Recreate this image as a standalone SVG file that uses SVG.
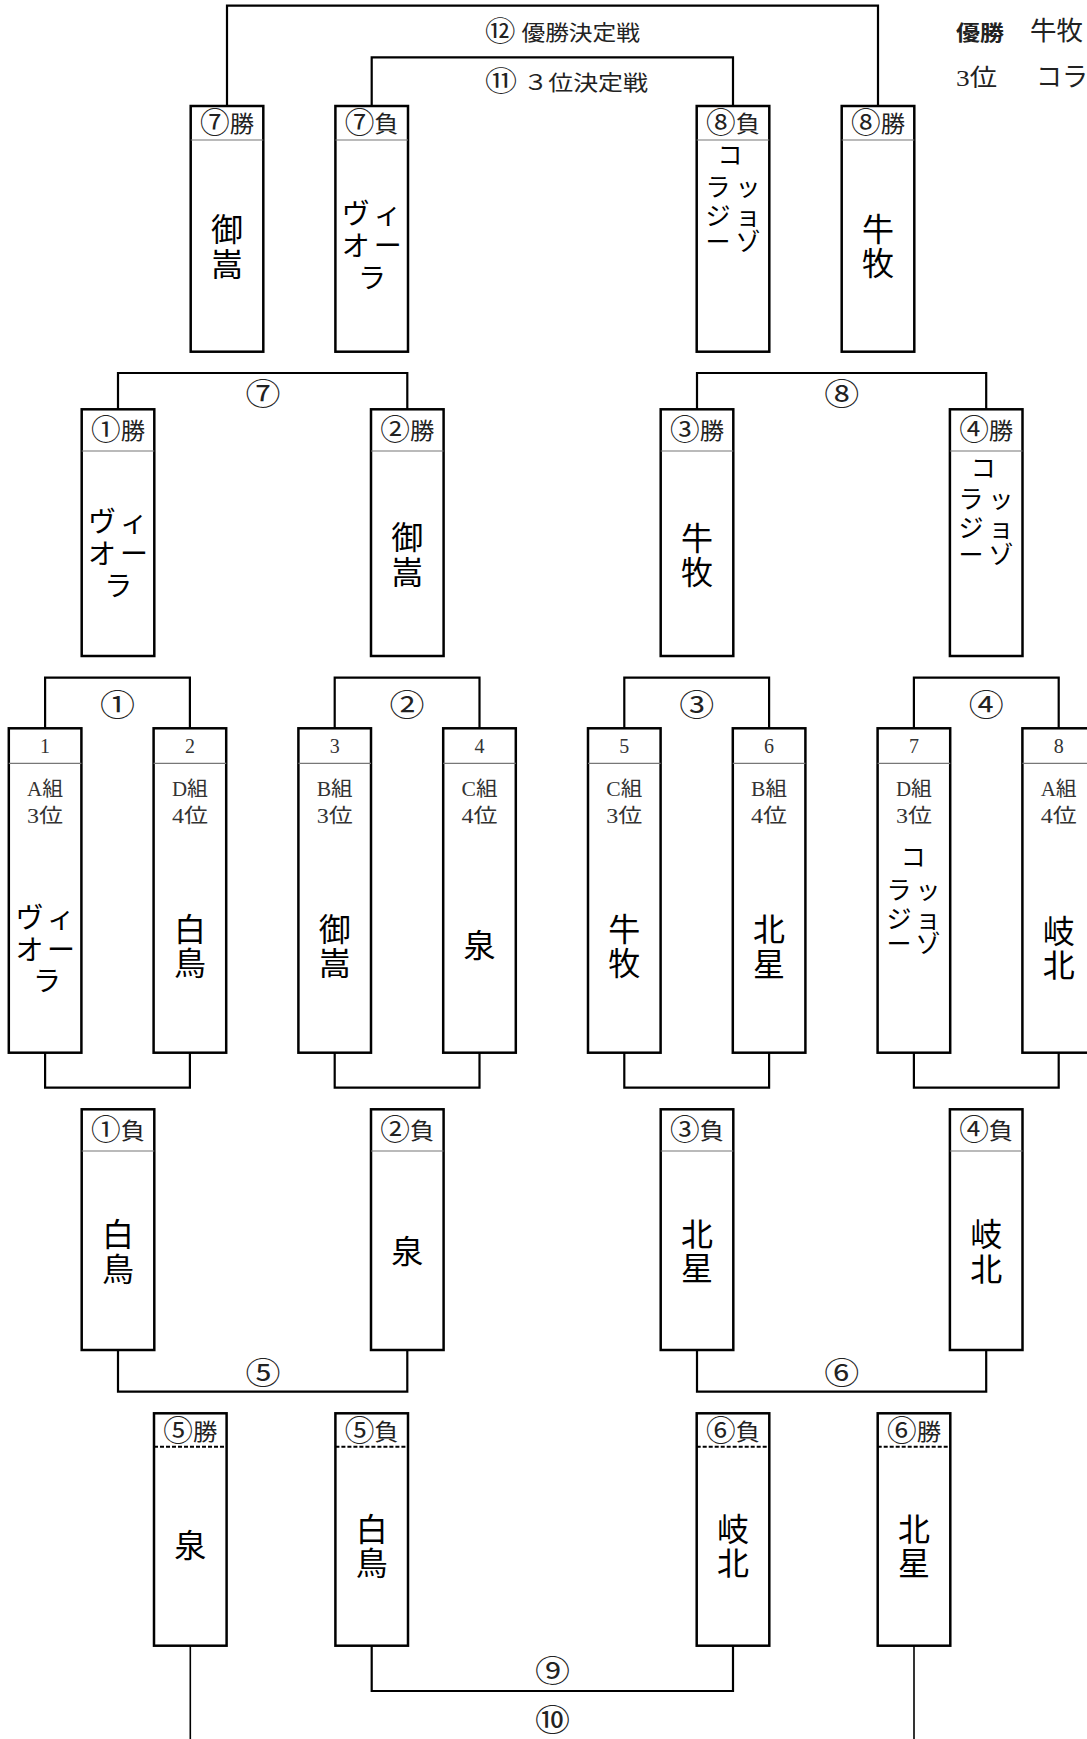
<svg xmlns="http://www.w3.org/2000/svg" width="1087" height="1739" viewBox="0 0 1087 1739">
<style>
.bg{fill:#fff}
.box{fill:#fff;stroke:#000;stroke-width:2.5}
.hl{stroke:#777;stroke-width:1.2}
.hld{stroke:#000;stroke-width:2;stroke-dasharray:4 2}
.ln{fill:none;stroke:#000;stroke-width:2.2}
.ln2{fill:none;stroke:#000;stroke-width:1.6}
text{font-family:"Liberation Serif","Noto Sans CJK JP",serif;text-anchor:middle;fill:#000}
.nm{font-family:"Noto Sans CJK JP",sans-serif;font-size:32px}
.nv{font-family:"Noto Sans CJK JP",sans-serif;font-size:32px;writing-mode:vertical-rl;letter-spacing:2.5px}
.kv{font-family:"Noto Sans CJK JP",sans-serif;font-size:28px}
.kc{font-family:"Noto Sans CJK JP",sans-serif;font-size:25px}
.ht{font-size:23px;fill:#222}
.cd{font-size:28px}
.ci{font-size:31px;fill:#222}
.gl{font-size:20px;fill:#333}
.no{font-size:20px;fill:#333}
.tt{text-anchor:start;fill:#222}
</style>
<rect class="bg" x="0" y="0" width="1087" height="1739"/>

<g id="connectors">
<path class="ln" d="M227,106V5.7H878V106"/>
<path class="ln" d="M371.7,106V57.3H733V106"/>
<path class="ln" d="M118,409.3V373H407.3V409.3"/>
<path class="ln" d="M697,409.3V373H986.2V409.3"/>
<path class="ln" d="M45.1,728.3V677.7H189.9V728.3"/>
<path class="ln" d="M334.7,728.3V677.7H479.5V728.3"/>
<path class="ln" d="M624.3,728.3V677.7H769.1V728.3"/>
<path class="ln" d="M913.9,728.3V677.7H1058.7V728.3"/>
<path class="ln" d="M45.1,1052.7V1087.7H189.9V1052.7"/>
<path class="ln" d="M334.7,1052.7V1087.7H479.5V1052.7"/>
<path class="ln" d="M624.3,1052.7V1087.7H769.1V1052.7"/>
<path class="ln" d="M913.9,1052.7V1087.7H1058.7V1052.7"/>
<path class="ln" d="M118,1350V1391.7H407.3V1350"/>
<path class="ln" d="M697,1350V1391.7H986.2V1350"/>
<path class="ln" d="M371.7,1645.7V1691H733V1645.7"/>
<path class="ln2" d="M190.3,1645.7V1739"/>
<path class="ln2" d="M914,1645.7V1739"/>
<text class="ci" x="263" y="404.7" textLength="35" lengthAdjust="spacingAndGlyphs">⑦</text>
<text class="ci" x="841.7" y="404.7" textLength="35" lengthAdjust="spacingAndGlyphs">⑧</text>
<text class="ci" x="117.5" y="716" textLength="35" lengthAdjust="spacingAndGlyphs">①</text>
<text class="ci" x="407.1" y="716" textLength="35" lengthAdjust="spacingAndGlyphs">②</text>
<text class="ci" x="696.7" y="716" textLength="35" lengthAdjust="spacingAndGlyphs">③</text>
<text class="ci" x="986.3" y="716" textLength="35" lengthAdjust="spacingAndGlyphs">④</text>
<text class="ci" x="263" y="1384" textLength="35" lengthAdjust="spacingAndGlyphs">⑤</text>
<text class="ci" x="841.7" y="1384" textLength="35" lengthAdjust="spacingAndGlyphs">⑥</text>
<text class="ci" x="552.5" y="1682.3" textLength="35" lengthAdjust="spacingAndGlyphs">⑨</text>
<text class="ci" x="552.5" y="1731.3" textLength="35" lengthAdjust="spacingAndGlyphs">⑩</text>
<text class="tt" x="485" y="39.5" font-size="21" textLength="155" lengthAdjust="spacingAndGlyphs"><tspan font-size="27" dy="1">⑫</tspan><tspan dy="-1"> 優勝決定戦</tspan></text>
<text class="tt" x="485" y="89.7" font-size="21" textLength="163" lengthAdjust="spacingAndGlyphs"><tspan font-size="27" dy="1">⑪</tspan><tspan dy="-1"> ３位決定戦</tspan></text>
</g>

<g id="result">
<text class="tt" x="956" y="39.5" font-size="21" font-weight="bold" textLength="48" lengthAdjust="spacingAndGlyphs">優勝</text>
<text class="tt" x="1030" y="40" font-size="26" textLength="53" lengthAdjust="spacingAndGlyphs">牛牧</text>
<text class="tt" x="956" y="85.7" font-size="24" textLength="41" lengthAdjust="spacingAndGlyphs">3位</text>
<text class="tt" x="1036" y="86" font-size="26">コラ</text>
</g>

<!-- top row -->
<g id="n-7w">
<rect class="box" x="190.7" y="106" width="72.6" height="245.7"/>
<line class="hl" x1="190.7" y1="140" x2="263.3" y2="140"/>
<text class="ht" x="227" y="131.7" textLength="54" lengthAdjust="spacingAndGlyphs"><tspan class="cd" dy="1">⑦</tspan><tspan dy="-1">勝</tspan></text>
<text class="nv" x="227" y="247.5">御嵩</text>
</g>
<g id="n-7l">
<rect class="box" x="335.4" y="106" width="72.6" height="245.7"/>
<line class="hl" x1="335.4" y1="140" x2="408" y2="140"/>
<text class="ht" x="371.7" y="131.7" textLength="54" lengthAdjust="spacingAndGlyphs"><tspan class="cd" dy="1">⑦</tspan><tspan dy="-1">負</tspan></text>
<text class="kv"><tspan x="355.7 387.7" y="223.6">ヴィ</tspan><tspan x="355.7 387.7" y="255.6">オー</tspan><tspan x="372" y="287.6">ラ</tspan></text>
</g>
<g id="n-8l">
<rect class="box" x="696.7" y="106" width="72.6" height="245.7"/>
<line class="hl" x1="696.7" y1="140" x2="769.3" y2="140"/>
<text class="ht" x="733" y="131.7" textLength="54" lengthAdjust="spacingAndGlyphs"><tspan class="cd" dy="1">⑧</tspan><tspan dy="-1">負</tspan></text>
<text class="kc"><tspan x="730" y="163.5">コ</tspan><tspan x="718 748" y="196.2">ラッ</tspan><tspan x="718 748" y="225.3">ジョ</tspan><tspan x="718 748" y="250.5">ーゾ</tspan></text>
</g>
<g id="n-8w">
<rect class="box" x="841.7" y="106" width="72.6" height="245.7"/>
<line class="hl" x1="841.7" y1="140" x2="914.3" y2="140"/>
<text class="ht" x="878" y="131.7" textLength="54" lengthAdjust="spacingAndGlyphs"><tspan class="cd" dy="1">⑧</tspan><tspan dy="-1">勝</tspan></text>
<text class="nv" x="878" y="247">牛牧</text>
</g>

<!-- row 2 -->
<g id="n-1w">
<rect class="box" x="81.7" y="409.3" width="72.6" height="246.7"/>
<line class="hl" x1="81.7" y1="451" x2="154.3" y2="451"/>
<text class="ht" x="118" y="438.7" textLength="54" lengthAdjust="spacingAndGlyphs"><tspan class="cd" dy="1">①</tspan><tspan dy="-1">勝</tspan></text>
<text class="kv"><tspan x="102 134" y="532.1">ヴィ</tspan><tspan x="102 134" y="564.1">オー</tspan><tspan x="118.3" y="596.1">ラ</tspan></text>
</g>
<g id="n-2w">
<rect class="box" x="371" y="409.3" width="72.6" height="246.7"/>
<line class="hl" x1="371" y1="451" x2="443.6" y2="451"/>
<text class="ht" x="407.3" y="438.7" textLength="54" lengthAdjust="spacingAndGlyphs"><tspan class="cd" dy="1">②</tspan><tspan dy="-1">勝</tspan></text>
<text class="nv" x="407.3" y="555.5">御嵩</text>
</g>
<g id="n-3w">
<rect class="box" x="660.7" y="409.3" width="72.6" height="246.7"/>
<line class="hl" x1="660.7" y1="451" x2="733.3" y2="451"/>
<text class="ht" x="697" y="438.7" textLength="54" lengthAdjust="spacingAndGlyphs"><tspan class="cd" dy="1">③</tspan><tspan dy="-1">勝</tspan></text>
<text class="nv" x="697" y="556">牛牧</text>
</g>
<g id="n-4w">
<rect class="box" x="949.9" y="409.3" width="72.6" height="246.7"/>
<line class="hl" x1="949.9" y1="451" x2="1022.5" y2="451"/>
<text class="ht" x="986.2" y="438.7" textLength="54" lengthAdjust="spacingAndGlyphs"><tspan class="cd" dy="1">④</tspan><tspan dy="-1">勝</tspan></text>
<text class="kc"><tspan x="983.3" y="476.5">コ</tspan><tspan x="971 1001" y="507.8">ラッ</tspan><tspan x="971 1001" y="537">ジョ</tspan><tspan x="971 1001" y="563.5">ーゾ</tspan></text>
</g>

<!-- row 3 (first round) -->
<g id="n-s1">
<rect class="box" x="8.8" y="728.3" width="72.6" height="324.4"/>
<line class="hl" x1="8.8" y1="763.3" x2="81.4" y2="763.3"/>
<text class="no" x="45.1" y="753.3">1</text>
<text class="gl" x="45.1" y="796.4" textLength="36" lengthAdjust="spacingAndGlyphs">A組</text>
<text class="gl" x="45.1" y="823.2" textLength="36" lengthAdjust="spacingAndGlyphs">3位</text>
<text class="kv"><tspan x="29.5 61" y="928.1">ヴィ</tspan><tspan x="29.5 61" y="959.6">オー</tspan><tspan x="47" y="991.1">ラ</tspan></text>
</g>
<g id="n-s2">
<rect class="box" x="153.6" y="728.3" width="72.6" height="324.4"/>
<line class="hl" x1="153.6" y1="763.3" x2="226.2" y2="763.3"/>
<text class="no" x="189.9" y="753.3">2</text>
<text class="gl" x="189.9" y="796.4" textLength="36" lengthAdjust="spacingAndGlyphs">D組</text>
<text class="gl" x="189.9" y="823.2" textLength="36" lengthAdjust="spacingAndGlyphs">4位</text>
<text class="nv" x="189.9" y="947.3">白鳥</text>
</g>
<g id="n-s3">
<rect class="box" x="298.4" y="728.3" width="72.6" height="324.4"/>
<line class="hl" x1="298.4" y1="763.3" x2="371" y2="763.3"/>
<text class="no" x="334.7" y="753.3">3</text>
<text class="gl" x="334.7" y="796.4" textLength="36" lengthAdjust="spacingAndGlyphs">B組</text>
<text class="gl" x="334.7" y="823.2" textLength="36" lengthAdjust="spacingAndGlyphs">3位</text>
<text class="nv" x="334.7" y="947.3">御嵩</text>
</g>
<g id="n-s4">
<rect class="box" x="443.2" y="728.3" width="72.6" height="324.4"/>
<line class="hl" x1="443.2" y1="763.3" x2="515.8" y2="763.3"/>
<text class="no" x="479.5" y="753.3">4</text>
<text class="gl" x="479.5" y="796.4" textLength="36" lengthAdjust="spacingAndGlyphs">C組</text>
<text class="gl" x="479.5" y="823.2" textLength="36" lengthAdjust="spacingAndGlyphs">4位</text>
<text class="nm" x="479.5" y="957.2">泉</text>
</g>
<g id="n-s5">
<rect class="box" x="588" y="728.3" width="72.6" height="324.4"/>
<line class="hl" x1="588" y1="763.3" x2="660.6" y2="763.3"/>
<text class="no" x="624.3" y="753.3">5</text>
<text class="gl" x="624.3" y="796.4" textLength="36" lengthAdjust="spacingAndGlyphs">C組</text>
<text class="gl" x="624.3" y="823.2" textLength="36" lengthAdjust="spacingAndGlyphs">3位</text>
<text class="nv" x="624.3" y="947.3">牛牧</text>
</g>
<g id="n-s6">
<rect class="box" x="732.8" y="728.3" width="72.6" height="324.4"/>
<line class="hl" x1="732.8" y1="763.3" x2="805.4" y2="763.3"/>
<text class="no" x="769.1" y="753.3">6</text>
<text class="gl" x="769.1" y="796.4" textLength="36" lengthAdjust="spacingAndGlyphs">B組</text>
<text class="gl" x="769.1" y="823.2" textLength="36" lengthAdjust="spacingAndGlyphs">4位</text>
<text class="nv" x="769.1" y="947.8">北星</text>
</g>
<g id="n-s7">
<rect class="box" x="877.6" y="728.3" width="72.6" height="324.4"/>
<line class="hl" x1="877.6" y1="763.3" x2="950.2" y2="763.3"/>
<text class="no" x="913.9" y="753.3">7</text>
<text class="gl" x="913.9" y="796.4" textLength="36" lengthAdjust="spacingAndGlyphs">D組</text>
<text class="gl" x="913.9" y="823.2" textLength="36" lengthAdjust="spacingAndGlyphs">3位</text>
<text class="kc"><tspan x="913.3" y="866">コ</tspan><tspan x="899 928" y="899">ラッ</tspan><tspan x="899 928" y="927.5">ジョ</tspan><tspan x="899 928" y="952.5">ーゾ</tspan></text>
</g>
<g id="n-s8">
<rect class="box" x="1022.4" y="728.3" width="72.6" height="324.4"/>
<line class="hl" x1="1022.4" y1="763.3" x2="1095" y2="763.3"/>
<text class="no" x="1058.7" y="753.3">8</text>
<text class="gl" x="1058.7" y="796.4" textLength="36" lengthAdjust="spacingAndGlyphs">A組</text>
<text class="gl" x="1058.7" y="823.2" textLength="36" lengthAdjust="spacingAndGlyphs">4位</text>
<text class="nv" x="1058.7" y="949.2">岐北</text>
</g>

<!-- row 4 (losers) -->
<g id="n-1l">
<rect class="box" x="81.7" y="1109.3" width="72.6" height="240.7"/>
<line class="hl" x1="81.7" y1="1151" x2="154.3" y2="1151"/>
<text class="ht" x="118" y="1138.7" textLength="54" lengthAdjust="spacingAndGlyphs"><tspan class="cd" dy="1">①</tspan><tspan dy="-1">負</tspan></text>
<text class="nv" x="118" y="1252.8">白鳥</text>
</g>
<g id="n-2l">
<rect class="box" x="371" y="1109.3" width="72.6" height="240.7"/>
<line class="hl" x1="371" y1="1151" x2="443.6" y2="1151"/>
<text class="ht" x="407.3" y="1138.7" textLength="54" lengthAdjust="spacingAndGlyphs"><tspan class="cd" dy="1">②</tspan><tspan dy="-1">負</tspan></text>
<text class="nm" x="407.3" y="1262.5">泉</text>
</g>
<g id="n-3l">
<rect class="box" x="660.7" y="1109.3" width="72.6" height="240.7"/>
<line class="hl" x1="660.7" y1="1151" x2="733.3" y2="1151"/>
<text class="ht" x="697" y="1138.7" textLength="54" lengthAdjust="spacingAndGlyphs"><tspan class="cd" dy="1">③</tspan><tspan dy="-1">負</tspan></text>
<text class="nv" x="697" y="1252.3">北星</text>
</g>
<g id="n-4l">
<rect class="box" x="949.9" y="1109.3" width="72.6" height="240.7"/>
<line class="hl" x1="949.9" y1="1151" x2="1022.5" y2="1151"/>
<text class="ht" x="986.2" y="1138.7" textLength="54" lengthAdjust="spacingAndGlyphs"><tspan class="cd" dy="1">④</tspan><tspan dy="-1">負</tspan></text>
<text class="nv" x="986.2" y="1252.6">岐北</text>
</g>

<!-- row 5 -->
<g id="n-5w">
<rect class="box" x="154" y="1413.3" width="72.6" height="232.4"/>
<line class="hld" x1="154" y1="1446.7" x2="226.6" y2="1446.7"/>
<text class="ht" x="190.3" y="1439.5" textLength="54" lengthAdjust="spacingAndGlyphs"><tspan class="cd" dy="1">⑤</tspan><tspan dy="-1">勝</tspan></text>
<text class="nm" x="190.3" y="1557.2">泉</text>
</g>
<g id="n-5l">
<rect class="box" x="335.4" y="1413.3" width="72.6" height="232.4"/>
<line class="hld" x1="335.4" y1="1446.7" x2="408" y2="1446.7"/>
<text class="ht" x="371.7" y="1439.5" textLength="54" lengthAdjust="spacingAndGlyphs"><tspan class="cd" dy="1">⑤</tspan><tspan dy="-1">負</tspan></text>
<text class="nv" x="371.7" y="1547.3">白鳥</text>
</g>
<g id="n-6l">
<rect class="box" x="696.7" y="1413.3" width="72.6" height="232.4"/>
<line class="hld" x1="696.7" y1="1446.7" x2="769.3" y2="1446.7"/>
<text class="ht" x="733" y="1439.5" textLength="54" lengthAdjust="spacingAndGlyphs"><tspan class="cd" dy="1">⑥</tspan><tspan dy="-1">負</tspan></text>
<text class="nv" x="733" y="1547">岐北</text>
</g>
<g id="n-6w">
<rect class="box" x="877.7" y="1413.3" width="72.6" height="232.4"/>
<line class="hld" x1="877.7" y1="1446.7" x2="950.3" y2="1446.7"/>
<text class="ht" x="914" y="1439.5" textLength="54" lengthAdjust="spacingAndGlyphs"><tspan class="cd" dy="1">⑥</tspan><tspan dy="-1">勝</tspan></text>
<text class="nv" x="914" y="1547.3">北星</text>
</g>
</svg>
